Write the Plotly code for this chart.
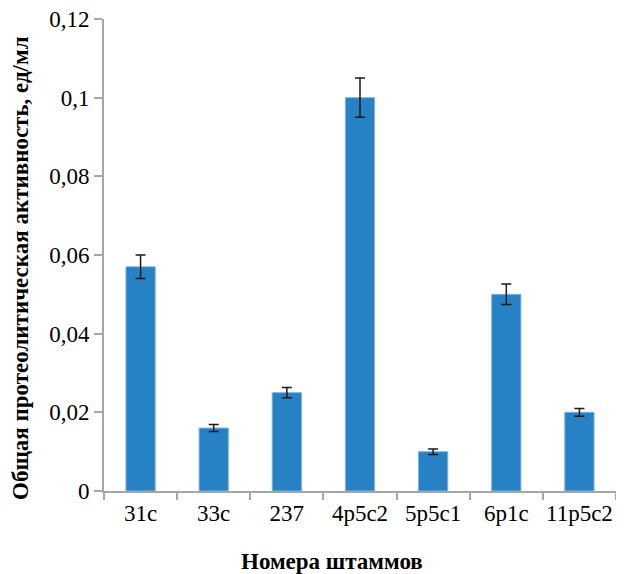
import plotly.graph_objects as go

strains = ["31c", "33c", "237", "4p5c2", "5p5c1", "6p1c", "11p5c2"]
activity = [0.057, 0.016, 0.025, 0.100, 0.010, 0.050, 0.020]
errors = [0.003, 0.0009, 0.0013, 0.005, 0.0007, 0.0026, 0.001]
y_ticks = [0, 0.02, 0.04, 0.06, 0.08, 0.1, 0.12]
y_tick_labels = ["0", "0,02", "0,04", "0,06", "0,08", "0,1", "0,12"]

FONT = "Liberation Serif"
TICK_SIZE = 23
TITLE_SIZE = 23

fig = go.Figure(go.Bar(
    x=strains, y=activity,
    marker=dict(color="#2682C4", line=dict(color="#7fb4dc", width=1)),
    error_y=dict(type="data", array=errors, visible=True,
                 color="#1a1a1a", thickness=1.5, width=5),
))

fig.update_layout(
    width=616, height=566,
    margin=dict(l=96, r=8, t=11, b=83, autoexpand=False),
    paper_bgcolor="white", plot_bgcolor="white",
    font=dict(family=FONT, size=TICK_SIZE, color="black"),
    bargap=0.6,
    showlegend=False,
    xaxis=dict(
        showline=True, linecolor="#a6a6a6", linewidth=2,
        ticks="outside", tickson="boundaries", ticklen=7, tickcolor="#a6a6a6",
        tickwidth=2, showgrid=False, tickangle=0, automargin=False,
        ticklabeloverflow="allow", tickfont=dict(family=FONT, size=TICK_SIZE),
    ),
    yaxis=dict(
        range=[0, 0.12], tickvals=y_ticks, ticktext=y_tick_labels,
        showline=True, linecolor="#a6a6a6", linewidth=2,
        ticks="outside", ticklen=8, tickcolor="#a6a6a6", tickwidth=2,
        showgrid=False, zeroline=False, automargin=False,
        ticklabeloverflow="allow", tickfont=dict(family=FONT, size=TICK_SIZE),
    ),
    annotations=[
        dict(text="<b>Номера штаммов</b>", xref="paper", yref="paper",
             x=(332 - 104) / 512, y=-(561 - 491) / 472, xanchor="center", yanchor="middle",
             showarrow=False, font=dict(family=FONT, size=TITLE_SIZE)),
        dict(text="<b>Общая протеолитическая активность, ед/мл</b>", xref="paper", yref="paper",
             x=-(104 - 20) / 512, y=(491 - 268) / 472, xanchor="center", yanchor="middle",
             textangle=-90, showarrow=False, font=dict(family=FONT, size=TITLE_SIZE)),
    ],
)

fig.write_html("out.html")
